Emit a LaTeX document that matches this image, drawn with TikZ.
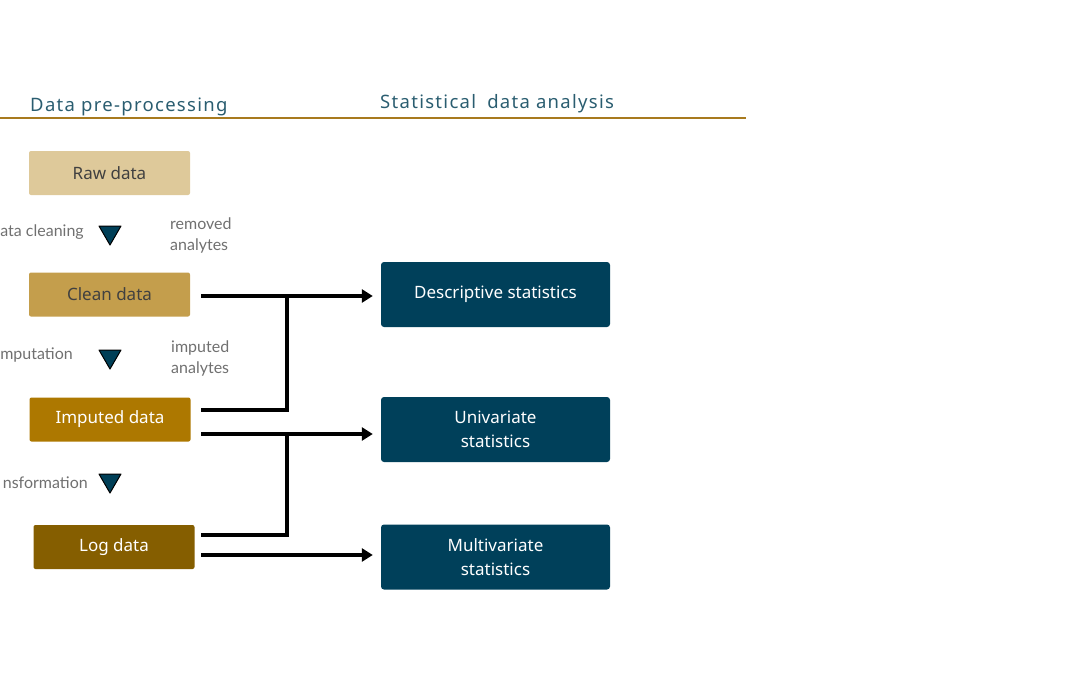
\documentclass[tikz,border=0pt]{standalone}
\usepackage{fontspec}
\setmainfont{Noto Sans}
\newfontfamily\lbl{Lato}
\newfontfamily\hdr[LetterSpace=7]{Noto Sans}
\usetikzlibrary{arrows.meta}
\definecolor{hdrcol}{HTML}{2A5D70}
\definecolor{rulecol}{HTML}{A87A1E}
\definecolor{rawcol}{HTML}{DEC99A}
\definecolor{cleancol}{HTML}{C49E4C}
\definecolor{impcol}{HTML}{AD7800}
\definecolor{logcol}{HTML}{855E00}
\definecolor{statcol}{HTML}{00405A}
\definecolor{tricol}{HTML}{003F57}
\definecolor{graytxt}{HTML}{707070}
\tikzset{
  datbox/.style={rectangle, rounded corners=2pt, minimum width=161pt, minimum height=44pt, inner sep=0pt, font=\fontsize{17}{19}\selectfont},
  statbox/.style={rectangle, rounded corners=3pt, fill=statcol, text=white, minimum width=229pt, minimum height=65pt, inner sep=0pt, align=center, font=\fontsize{17}{24.5}\selectfont},
  tri/.style={draw=black, fill=tricol, line width=1pt, line join=round},
  sidelbl/.style={text=graytxt, font=\lbl\fontsize{16}{21}\selectfont, inner sep=0pt},
  hdrtxt/.style={text=hdrcol, font=\hdr\fontsize{18.5}{20}\selectfont, inner sep=0pt},
  conn/.style={line width=3.2pt, black},
  arr/.style={conn, -{Triangle[length=11pt,width=13pt]}}
}
\begin{document}
\begin{tikzpicture}[x=1pt,y=-1pt]
\useasboundingbox (0,0) rectangle (1080,675);
% headers
\node[hdrtxt, anchor=base west] (h1) at (30,111) {Data pre-processing};
\node[hdrtxt, anchor=base west] (h2) at (380,108) {Statistical\hspace{5pt} data analysis};
\draw[rulecol, line width=1.2pt] (0,118) -- (746,118);
% data boxes
\node[datbox, fill=rawcol, text=black!75] (raw) at (109.5,173) {Raw data};
\node[datbox, fill=cleancol, text=black!75] (clean) at (109.5,294.5) {Clean data};
\node[datbox, fill=impcol, text=white] (imp) at (110,419.5) {Imputed data};
\node[datbox, fill=logcol, text=white] (log) at (114,547) {Log data};
% triangles
\draw[tri] (99,226) -- (121,226) -- (110,245) -- cycle;
\draw[tri] (99,350) -- (121,350) -- (110,369) -- cycle;
\draw[tri] (99,474) -- (121,474) -- (110,493) -- cycle;
% side labels
\node[sidelbl, anchor=east] (l1) at (84,232) {ata cleaning};
\node[sidelbl, anchor=east] (l2) at (73,355) {mputation};
\node[sidelbl, anchor=east] (l3) at (88,483) {nsformation};
\node[sidelbl, anchor=west, align=left] (r1) at (170,235) {removed\\analytes};
\node[sidelbl, anchor=west, align=left] (r2) at (171,358) {imputed\\analytes};
% stat boxes
\node[statbox] (desc) at (495.5,294.5) {Descriptive statistics};
\node[statbox] (uni) at (495.5,429.5) {Univariate\\statistics};
\node[statbox] (multi) at (495.5,557) {Multivariate\\statistics};
% connectors
\coordinate (c1) at (201,296);
\coordinate (c2) at (201,410);
\coordinate (c3) at (201,434);
\coordinate (c4) at (201,535);
\coordinate (c5) at (201,555);
\draw[arr] (c1) -- ([xshift=-8pt]desc.west |- c1);
\draw[conn] (c2) -| (287,296);
\draw[arr] (c3) -- ([xshift=-8pt]uni.west |- c3);
\draw[conn] (c4) -| (287,434);
\draw[arr] (c5) -- ([xshift=-8pt]multi.west |- c5);
\end{tikzpicture}
\end{document}
